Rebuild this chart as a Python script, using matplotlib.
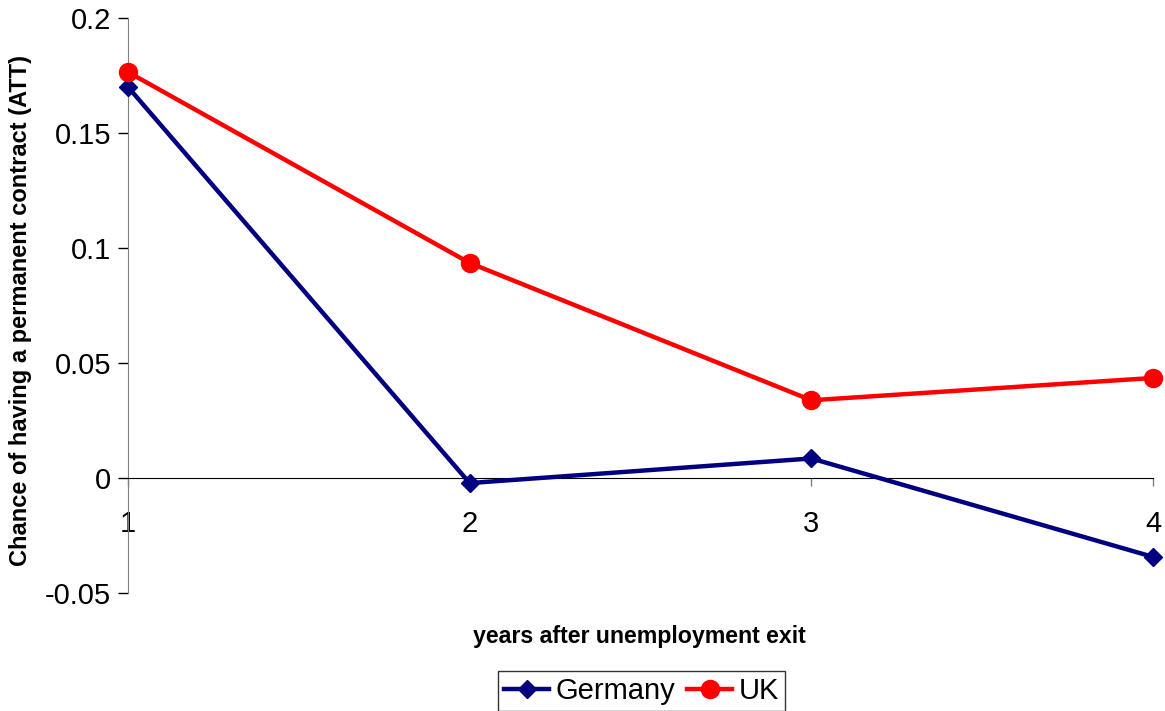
import matplotlib.pyplot as plt

plt.rcParams['font.family'] = ['Liberation Sans', 'DejaVu Sans']

years = [1, 2, 3, 4]
germany = [0.170, -0.0022, 0.0085, -0.0343]
uk = [0.1765, 0.0935, 0.0338, 0.0435]

fig = plt.figure(figsize=(11.65, 7.11), dpi=100)
ax = fig.add_axes([128 / 1165, 1 - 593 / 711, (1153 - 128) / 1165, (593 - 18) / 711])

ax.plot(years, germany, color='#000080', lw=3.2, marker='D', markersize=9,
        label='Germany', clip_on=False, zorder=3)
ax.plot(years, uk, color='#FF0000', lw=3.2, marker='o', markersize=13,
        label='UK', clip_on=False, zorder=3)

ax.set_xlim(1, 4)
ax.set_ylim(-0.05, 0.2)
ax.set_xticks(years)
ax.set_yticks([-0.05, 0, 0.05, 0.1, 0.15, 0.2])
ax.set_yticklabels(['-0.05', '0', '0.05', '0.1', '0.15', '0.2'])

# excel style axes
ax.spines['top'].set_visible(False)
ax.spines['right'].set_visible(False)
ax.spines['bottom'].set_position(('data', 0))
ax.spines['bottom'].set_color('black')
ax.spines['left'].set_color('#808080')
ax.tick_params(axis='y', direction='out', length=7, width=1, color='black',
               labelsize=21, pad=5)
ax.tick_params(axis='x', direction='out', length=6, width=1, color='#808080',
               labelsize=21, pad=17)

ax.set_ylabel('Chance of having a permanent contract (ATT)', fontsize=17,
              fontweight='bold')
ax.yaxis.set_label_coords(-0.094, 0.492)
fig.text(0.549, 1 - 637 / 711, 'years after unemployment exit', fontsize=16.7,
         fontweight='bold', ha='center', va='center')

fig.legend(loc='upper center', bbox_to_anchor=(0.5506, 1 - 671 / 711),
           ncol=2, fontsize=21, frameon=True, fancybox=False,
           edgecolor='black', handlelength=1.55, columnspacing=0.4,
           handletextpad=0.22, borderpad=0.2, borderaxespad=0)

fig.savefig('out.png', dpi=100)
